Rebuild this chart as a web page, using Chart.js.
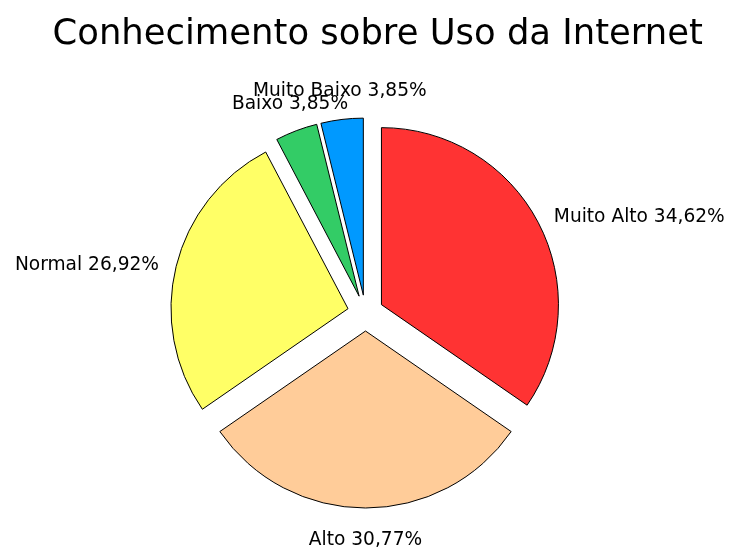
<!DOCTYPE html>
<html>
<head>
<meta charset="utf-8">
<script src="https://cdn.jsdelivr.net/npm/chart.js@4"></script>
<style>
  body { margin: 0; background: #fff; }
</style>
</head>
<body>
<canvas id="chart" width="731" height="547"></canvas>
<script>
const categories = ['Muito Alto', 'Alto', 'Normal', 'Baixo', 'Muito Baixo'];
const percentages = [34.62, 30.77, 26.92, 3.85, 3.85];
const chartTitle = 'Conhecimento sobre Uso da Internet';

const sliceColors = ['#FF3333', '#FFCC99', '#FFFF66', '#33CC66', '#0099FF'];
const EXPLODE = 18;
const LABEL_SIZE = 18.6;

// every slice pushed out from the centre, like an exploded pie
const explode = {
    id: 'explode',
    beforeDatasetDraw(chart, args) {
        const ctx = chart.ctx;
        args.meta.data.forEach(arc => {
            const mid = (arc.startAngle + arc.endAngle) / 2;
            ctx.save();
            ctx.translate(Math.cos(mid) * EXPLODE, Math.sin(mid) * EXPLODE);
            arc.draw(ctx);
            ctx.restore();
        });
        return false;
    }
};

const sliceLabels = {
    id: 'sliceLabels',
    afterDatasetsDraw(chart) {
        const ctx = chart.ctx;
        const arcs = chart.getDatasetMeta(0).data;
        ctx.save();
        ctx.font = LABEL_SIZE + 'px "DejaVu Sans"';
        ctx.fillStyle = '#000';
        ctx.textBaseline = 'alphabetic';
        arcs.forEach((arc, i) => {
            const mid = (arc.startAngle + arc.endAngle) / 2;
            const dist = EXPLODE + 1.1 * arc.outerRadius;
            const dx = Math.cos(mid), dy = Math.sin(mid);
            const x = arc.x + dx * dist;
            const y = arc.y + dy * dist;
            const text = categories[i] + ' ' + percentages[i].toFixed(2).replace('.', ',') + '%';
            if (Math.abs(dx) > 0.5) {
                ctx.textAlign = dx > 0 ? 'left' : 'right';
                ctx.fillText(text, x, y + 0.43 * LABEL_SIZE);
            } else {
                ctx.textAlign = 'center';
                ctx.fillText(text, x, dy < 0 ? y - 0.29 * LABEL_SIZE : y + 1.04 * LABEL_SIZE);
            }
        });
        ctx.restore();
    }
};

// title sits a bit right of the pie centre in the original
const pageTitle = {
    id: 'pageTitle',
    afterDraw(chart) {
        const ctx = chart.ctx;
        ctx.save();
        ctx.font = '35.4px "DejaVu Sans"';
        ctx.fillStyle = '#000';
        ctx.textAlign = 'center';
        ctx.textBaseline = 'alphabetic';
        ctx.fillText(chartTitle, 377.7, 44.3);
        ctx.restore();
    }
};

const ctx = document.getElementById('chart').getContext('2d');

const chart = new Chart(ctx, {
    type: 'pie',
    data: {
        labels: categories,
        datasets: [{
            data: percentages,
            backgroundColor: sliceColors,
            borderColor: '#000',
            borderWidth: 1,
            borderJoinStyle: 'miter'
        }]
    },
    options: {
        responsive: false,
        animation: false,
        radius: 177,
        layout: { padding: { top: 79 } },
        plugins: {
            legend: { display: false },
            tooltip: { enabled: false },
            title: { display: false }
        }
    },
    plugins: [explode, sliceLabels, pageTitle]
});
</script>
</body>
</html>
